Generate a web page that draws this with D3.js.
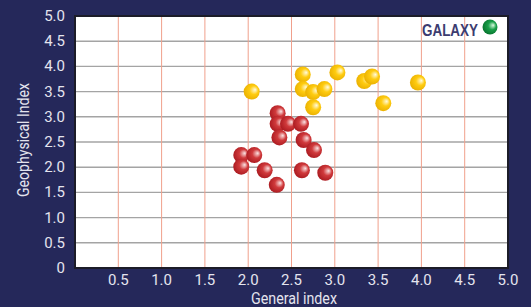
<!DOCTYPE html>
<html lang="en">
	<head>
		<meta charset="utf-8">
		<title>Galaxy scatter</title>
		<script type="text/javascript" src="https://cdn.jsdelivr.net/npm/d3@7"></script>
		<style type="text/css">
			body { margin: 0; background: #25285a; }
			svg { display: block; }
		</style>
	</head>
	<body>
		<script type="text/javascript">

			//Width and height
			var w = 531;
			var h = 307;

			//data (general index, geophysical index)
			var yellowX = [2.04, 2.63, 2.63, 2.75, 2.88, 2.75, 3.03, 3.34, 3.43, 3.56, 3.96];
			var yellowY = [3.50, 3.84, 3.55, 3.49, 3.55, 3.19, 3.88, 3.71, 3.80, 3.27, 3.68];
			var redX = [2.34, 2.34, 2.46, 2.61, 2.36, 2.64, 2.76, 1.92, 2.07, 1.92, 2.19, 2.62, 2.89, 2.33];
			var redY = [3.07, 2.86, 2.86, 2.86, 2.59, 2.54, 2.34, 2.24, 2.24, 2.01, 1.94, 1.94, 1.89, 1.65];
			var xTicks = [0.5, 1.0, 1.5, 2.0, 2.5, 3.0, 3.5, 4.0, 4.5, 5.0];
			var yTicks = [0, 0.5, 1.0, 1.5, 2.0, 2.5, 3.0, 3.5, 4.0, 4.5, 5.0];
			var legendLabel = "GALAXY";

			//plot box ("top" is taken by window.top)
			var pLeft = 75, pRight = 508, pTop = 16, pBottom = 268;

			var x = d3.scaleLinear().domain([0, 5]).range([pLeft, pRight]);
			var y = d3.scaleLinear().domain([0, 5]).range([pBottom, pTop]);

			var svg = d3.select("body")
						.append("svg")
						.attr("width", w)
						.attr("height", h);

			//gradients for the shaded balls
			var defs = svg.append("defs");
			function ball(id, light, mid, dark) {
				var g = defs.append("radialGradient")
					.attr("id", id)
					.attr("cx", "0.55").attr("cy", "0.45").attr("r", "0.6")
					.attr("fx", "0.72").attr("fy", "0.38");
				g.append("stop").attr("offset", "0%").attr("stop-color", light);
				g.append("stop").attr("offset", "45%").attr("stop-color", mid);
				g.append("stop").attr("offset", "100%").attr("stop-color", dark);
			}
			ball("gRed", "#fbe4e4", "#d03a3c", "#a8181e");
			ball("gYellow", "#fffbe0", "#ffcc10", "#e8ae00");
			ball("gGreen", "#d8fbe0", "#1aa04a", "#06702c");

			//plot background
			svg.append("rect")
				.attr("x", pLeft).attr("y", pTop)
				.attr("width", pRight - pLeft).attr("height", pBottom - pTop)
				.attr("fill", "white");

			//horizontal grid
			svg.selectAll("line.hgrid")
				.data(yTicks.filter(function(d) { return d > 0 && d < 5; }))
				.enter()
				.append("line")
				.attr("class", "hgrid")
				.attr("x1", pLeft).attr("x2", pRight)
				.attr("y1", function(d) { return y(d); })
				.attr("y2", function(d) { return y(d); })
				.attr("stroke", "#a4a4a4")
				.attr("stroke-width", 1.4);

			//vertical grid
			svg.selectAll("line.vgrid")
				.data(xTicks.filter(function(d) { return d < 5; }))
				.enter()
				.append("line")
				.attr("class", "vgrid")
				.attr("y1", pTop).attr("y2", pBottom)
				.attr("x1", function(d) { return x(d); })
				.attr("x2", function(d) { return x(d); })
				.attr("stroke", "#f0a08c")
				.attr("stroke-width", 1);

			//frame
			svg.append("rect")
				.attr("x", pLeft).attr("y", pTop)
				.attr("width", pRight - pLeft).attr("height", pBottom - pTop)
				.attr("fill", "none")
				.attr("stroke", "#1c1c28")
				.attr("stroke-width", 2);

			//points
			svg.selectAll("circle.yellow")
				.data(yellowX)
				.enter()
				.append("circle")
				.attr("class", "yellow")
				.attr("cx", function(d) { return x(d); })
				.attr("cy", function(d, i) { return y(yellowY[i]); })
				.attr("r", 8)
				.attr("fill", "url(#gYellow)");

			svg.selectAll("circle.red")
				.data(redX)
				.enter()
				.append("circle")
				.attr("class", "red")
				.attr("cx", function(d) { return x(d); })
				.attr("cy", function(d, i) { return y(redY[i]); })
				.attr("r", 8)
				.attr("fill", "url(#gRed)");

			//legend
			svg.append("circle")
				.attr("cx", 490).attr("cy", 27).attr("r", 7.5)
				.attr("fill", "url(#gGreen)");
			svg.append("text")
				.text(legendLabel)
				.attr("x", 478).attr("y", 36)
				.attr("text-anchor", "end")
				.attr("textLength", 56)
				.attr("lengthAdjust", "spacingAndGlyphs")
				.attr("font-family", "'Liberation Sans', sans-serif")
				.attr("font-weight", "bold")
				.attr("font-size", "16px")
				.attr("fill", "#3c3c70");

			var tickFont = "Roboto, sans-serif";
			function fmt(d) { return d === 0 ? "0" : d.toFixed(1); }

			//y tick labels
			svg.selectAll("text.ytick")
				.data(yTicks)
				.enter()
				.append("text")
				.attr("class", "ytick")
				.text(fmt)
				.attr("x", 65)
				.attr("y", function(d) { return y(d) + 5; })
				.attr("text-anchor", "end")
				.attr("font-family", tickFont)
				.attr("font-size", "15px")
				.attr("fill", "#e4e4ee");

			//x tick labels
			svg.selectAll("text.xtick")
				.data(xTicks)
				.enter()
				.append("text")
				.attr("class", "xtick")
				.text(fmt)
				.attr("x", function(d) { return x(d); })
				.attr("y", 285)
				.attr("text-anchor", "middle")
				.attr("font-family", tickFont)
				.attr("font-size", "15px")
				.attr("fill", "#e4e4ee");

			//axis titles (reference font is condensed, so squeeze to its width)
			svg.append("text")
				.text("General index")
				.attr("x", 294)
				.attr("y", 304)
				.attr("text-anchor", "middle")
				.attr("textLength", 86)
				.attr("lengthAdjust", "spacingAndGlyphs")
				.attr("font-family", tickFont)
				.attr("font-size", "16px")
				.attr("fill", "#e4e4ee");

			svg.append("text")
				.text("Geophysical Index")
				.attr("transform", "translate(29,140) rotate(-90)")
				.attr("text-anchor", "middle")
				.attr("textLength", 114)
				.attr("lengthAdjust", "spacingAndGlyphs")
				.attr("font-family", tickFont)
				.attr("font-size", "16px")
				.attr("fill", "#e4e4ee");

		</script>
	</body>
</html>
